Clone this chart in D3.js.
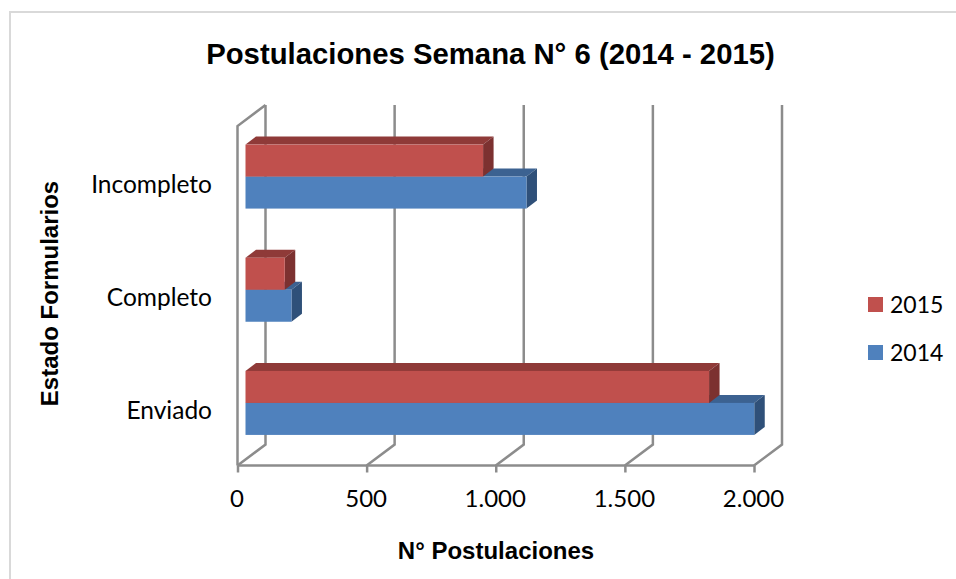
<!DOCTYPE html>
<html>
<head>
<meta charset="utf-8" />
<title>Postulaciones</title>
<script src="https://cdn.jsdelivr.net/npm/d3@7"></script>
<style>
body { margin: 0; background: #fff; }
svg { display: block; }
.title, .axis-title { font-family: "Liberation Sans", Arial, sans-serif; font-weight: bold; fill: #000; }
.label { font-family: Lato, sans-serif; fill: #000; }
</style>
</head>
<body>
<div id="viz"></div>
<script>

var categories = ["Incompleto", "Completo", "Enviado"];
var seriesNames = ["2015", "2014"];
var values2015 = [920, 152, 1795];
var values2014 = [1088, 178, 1970];
var xTicks = [0, 500, 1000, 1500, 2000];

var colors = {
  "2015": { front: "#c0504d", top: "#8f3a38", side: "#7c3130" },
  "2014": { front: "#4f81bd", top: "#3c6291", side: "#2f5079" }
};

var width = 956, height = 579;
var svg = d3.select("#viz").append("svg")
    .attr("width", width)
    .attr("height", height);

// chart frame
svg.append("path")
  .attr("d", "M956,12H10V579")
  .attr("fill", "none")
  .attr("stroke", "#d9d9d9")
  .attr("stroke-width", 2);

var x = d3.scaleLinear().domain([0, 2000]).range([237.5, 754]);
var y = d3.scaleBand().domain(categories).range([126, 465.5]);
var inner = d3.scaleBand().domain(seriesNames).range([y.bandwidth() / 2 - 32, y.bandwidth() / 2 + 32]);

// 3d offsets: back wall and bar depth
var wallX = 28, wallY = -21;
var depthX = 10.5, depthY = -8;
var barX = 8, barY = -6;

var grey = "#8c8c8c";

// back wall gridlines and floor lines
var wall = svg.append("g").attr("fill", "none").attr("stroke", grey).attr("stroke-width", 2.5);
wall.selectAll("path.grid")
  .data(xTicks)
  .enter().append("path")
  .attr("class", "grid")
  .attr("d", function(d) {
    return "M" + x(d) + ",465.5L" + (x(d) + wallX) + "," + (465.5 + wallY) + "V" + (126 + wallY);
  });

// left wall
wall.append("path")
  .attr("d", "M" + x(0) + ",465.5V126L" + (x(0) + wallX) + "," + (126 + wallY));

// axis
var fmt = d3.formatLocale({ decimal: ",", thousands: ".", grouping: [3], currency: ["", ""] }).format(",");
var axis = svg.append("g")
  .attr("transform", "translate(0,465.5)")
  .call(d3.axisBottom(x).tickValues(xTicks).tickFormat(fmt).tickSize(7).tickPadding(17));
axis.selectAll("path, line").attr("stroke", grey).attr("stroke-width", 2.5);
axis.select("path").attr("d", "M" + x(0) + ",0H" + x(2000));
axis.selectAll("text").attr("class", "label").attr("dx", -1).style("font-size", "24px");

var rows = [];
categories.forEach(function(c, i) {
  rows.push({ cat: c, name: "2014", value: values2014[i] });
  rows.push({ cat: c, name: "2015", value: values2015[i] });
});

// bars, bottom category first so the tops stack right
var order = ["Enviado", "Completo", "Incompleto"];
order.forEach(function(c) {
  var g = svg.append("g");
  rows.filter(function(r) { return r.cat == c; }).forEach(function(r) {
    var col = colors[r.name];
    var x0 = x(0) + barX;
    var x1 = x(r.value) + barX;
    var y0 = y(c) + inner(r.name) + barY;
    var y1 = y0 + inner.bandwidth();
    g.append("path").attr("fill", col.top)
      .attr("d", "M" + x0 + "," + y0 + "L" + (x0 + depthX) + "," + (y0 + depthY) + "H" + (x1 + depthX) + "L" + x1 + "," + y0 + "Z");
    g.append("path").attr("fill", col.side)
      .attr("d", "M" + x1 + "," + y0 + "L" + (x1 + depthX) + "," + (y0 + depthY) + "V" + (y1 + depthY) + "L" + x1 + "," + y1 + "Z");
    g.append("rect").attr("fill", col.front)
      .attr("x", x0).attr("y", y0)
      .attr("width", x1 - x0).attr("height", y1 - y0);
  });
});

// category labels
svg.selectAll("text.cat")
  .data(categories)
  .enter().append("text")
  .attr("class", "label cat")
  .attr("x", 212)
  .attr("y", function(d) { return y(d) + y.bandwidth() / 2 + barY + 16; })
  .attr("text-anchor", "end")
  .style("font-size", "24.5px")
  .text(function(d) { return d; });

// titles
svg.append("text").attr("class", "title")
  .attr("x", 490.5).attr("y", 63.5)
  .attr("text-anchor", "middle")
  .style("font-size", "29.3px")
  .text("Postulaciones Semana N° 6 (2014 - 2015)");

svg.append("text").attr("class", "axis-title")
  .attr("x", 496).attr("y", 559)
  .attr("text-anchor", "middle")
  .style("font-size", "24px")
  .text("N° Postulaciones");

svg.append("text").attr("class", "axis-title")
  .attr("transform", "translate(58,293.5) rotate(-90)")
  .attr("text-anchor", "middle")
  .style("font-size", "24px")
  .text("Estado Formularios");

// legend
var legend = svg.selectAll("g.legend")
  .data(seriesNames)
  .enter().append("g")
  .attr("class", "legend")
  .attr("transform", function(d, i) { return "translate(868," + (297 + i * 48) + ")"; });
legend.append("rect")
  .attr("width", 15).attr("height", 15)
  .attr("fill", function(d) { return colors[d].front; });
legend.append("text")
  .attr("class", "label")
  .attr("x", 22).attr("y", 15.5)
  .style("font-size", "23px")
  .text(function(d) { return d; });

</script>
</body>
</html>
